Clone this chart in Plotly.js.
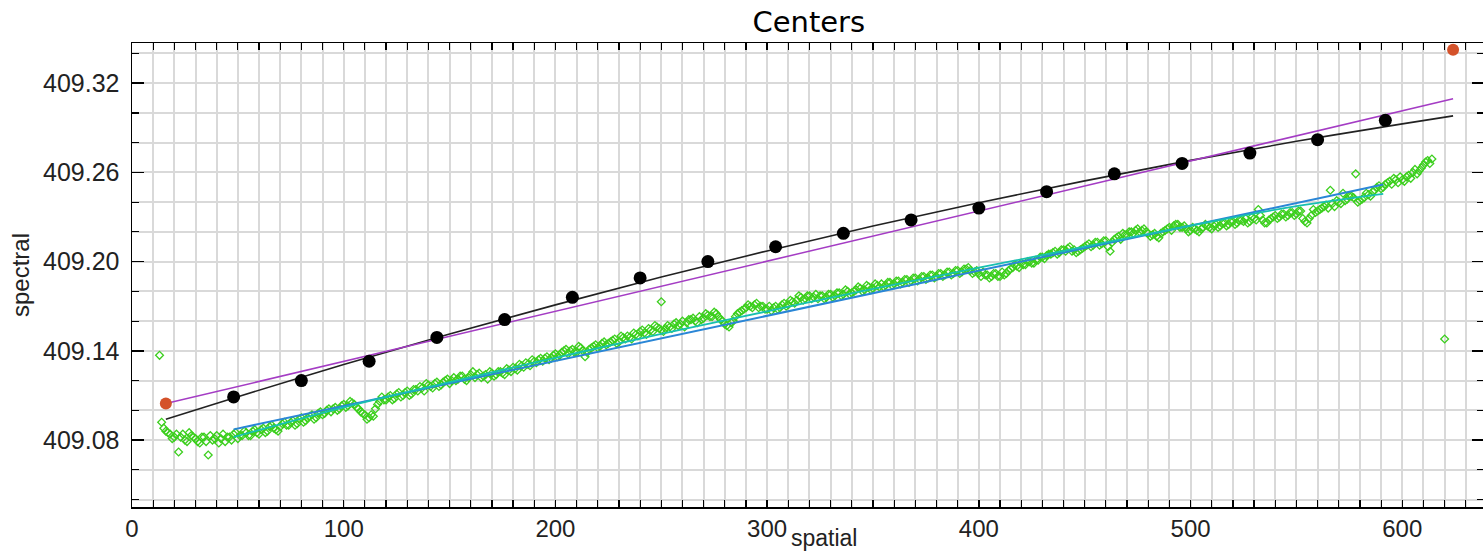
<!DOCTYPE html>
<html>
<head>
<meta charset="utf-8">
<script src="https://cdn.plot.ly/plotly-3.0.1.min.js"></script>
<style>
html,body{margin:0;padding:0;overflow:hidden;background:#fff;}
#chart{width:1484px;height:552px;}
</style>
</head>
<body>
<div id="chart"></div>
<script>
// ---- data ----
const refX = [48,80,112,144,176,208,240,272,304,336,368,400,432,464,496,528,560,592];
const refY = [409.109,409.120,409.133,409.149,409.161,409.176,409.189,409.200,409.210,409.219,409.228,409.236,409.247,409.259,409.266,409.273,409.282,409.295];

const endX = [16,624];
const endY = [409.1046,409.3424];

const quadFitX = [16,50,100,150,200,250,300,350,400,450,500,550,600,624];
const quadFitY = [409.094,409.1092,409.1308,409.1513,409.1709,409.1896,409.2072,409.2240,409.2396,409.2543,409.2681,409.2809,409.2926,409.298];

const linFitX = [16,624];
const linFitY = [409.1046,409.3095];

const greenFitX = [48,591];
const greenFitY = [409.0872,409.2518];

const greenCurveX = [48,100,150,200,250,300,350,400,450,500,550,591];
const greenCurveY = [409.082,409.102,409.119,409.1353,409.1514,409.1666,409.1817,409.1959,409.210,409.2242,409.2373,409.2456];

const greenX = [
14,16,18,20,22,24,26,28,30,32,
34,36,38,40,42,44,46,48,50,52,
54,56,58,60,62,64,66,68,70,72,
74,76,78,80,82,84,86,88,90,92,
94,96,98,100,102,104,106,108,110,112,
114,116,118,120,122,124,126,128,130,132,
134,136,138,140,142,144,146,148,150,152,
154,156,158,160,162,164,166,168,170,172,
174,176,178,180,182,184,186,188,190,192,
194,196,198,200,202,204,206,208,210,212,
214,216,218,220,222,224,226,228,230,232,
234,236,238,240,242,244,246,248,250,252,
254,256,258,260,262,264,266,268,270,272,
274,276,278,280,282,284,286,288,290,292,
294,296,298,300,302,304,306,308,310,312,
314,316,318,320,322,324,326,328,330,332,
334,336,338,340,342,344,346,348,350,352,
354,356,358,360,362,364,366,368,370,372,
374,376,378,380,382,384,386,388,390,392,
394,396,398,400,402,404,406,408,410,412,
414,416,418,420,422,424,426,428,430,432,
434,436,438,440,442,444,446,448,450,452,
454,456,458,460,462,464,466,468,470,472,
474,476,478,480,482,484,486,488,490,492,
494,496,498,500,502,504,506,508,510,512,
514,516,518,520,522,524,526,528,530,532,
534,536,538,540,542,544,546,548,550,552,
554,556,558,560,562,564,566,568,570,572,
574,576,578,580,582,584,586,588,590,592,
594,596,598,600,602,604,606,608,610,612,
614,
13,250,620];
const greenY = [
409.092,409.086,409.084,409.082,409.072,409.084,409.079,409.083,409.081,409.078,
409.082,409.070,409.080,409.083,409.081,409.079,409.082,409.084,409.081,409.083,
409.085,409.083,409.087,409.084,409.088,409.086,409.090,409.087,409.089,409.092,
409.090,409.093,409.091,409.095,409.093,409.096,409.094,409.098,409.097,409.100,
409.099,409.102,409.101,409.104,409.103,409.105,409.102,409.099,409.097,409.095,
409.096,409.104,409.109,409.107,409.110,409.108,409.112,409.110,409.113,409.111,
409.114,409.116,409.113,409.117,409.115,409.119,409.117,409.120,409.118,409.122,
409.121,409.123,409.120,409.124,409.122,409.125,409.123,409.121,409.125,409.124,
409.126,409.124,409.127,409.129,409.127,409.130,409.132,409.130,409.133,409.134,
409.133,409.136,409.135,409.138,409.137,409.140,409.138,409.141,409.139,409.142,
409.136,409.141,409.143,409.142,409.145,409.144,409.146,409.148,409.146,409.149,
409.150,409.148,409.151,409.153,409.152,409.155,409.153,409.156,409.154,409.155,
409.156,409.158,409.157,409.160,409.159,409.161,409.160,409.163,409.162,409.164,
409.163,409.165,409.161,409.158,409.156,409.160,409.165,409.167,409.169,409.170,
409.171,409.169,409.170,409.168,409.167,409.170,409.169,409.172,409.171,409.173,
409.174,409.176,409.175,409.177,409.176,409.175,409.177,409.176,409.178,409.177,
409.179,409.178,409.180,409.179,409.181,409.182,409.181,409.183,409.182,409.184,
409.185,409.184,409.186,409.185,409.187,409.186,409.188,409.187,409.189,409.188,
409.190,409.189,409.191,409.190,409.192,409.191,409.193,409.192,409.194,409.193,
409.195,409.194,409.193,409.192,409.193,409.191,409.190,409.192,409.190,409.191,
409.194,409.196,409.197,409.199,409.198,409.200,409.199,409.201,409.203,409.204,
409.205,409.207,409.206,409.208,409.209,409.207,409.206,409.208,409.210,409.212,
409.211,409.213,409.212,409.214,409.207,409.215,409.217,409.219,409.218,409.220,
409.221,409.220,409.222,409.219,409.218,409.217,409.219,409.221,409.223,409.224,
409.225,409.223,409.222,409.221,409.222,409.220,409.223,409.224,409.222,409.225,
409.224,409.226,409.225,409.227,409.226,409.228,409.229,409.227,409.229,409.235,
409.228,409.226,409.229,409.231,409.230,409.232,409.231,409.233,409.232,409.234,
409.227,409.229,409.235,409.234,409.236,409.238,409.248,409.237,409.240,409.246,
409.242,409.244,409.259,409.241,409.243,409.245,409.247,409.250,409.249,409.252,
409.254,409.256,409.253,409.255,409.257,409.256,409.262,409.261,409.265,409.268,
409.269,
409.137,409.173,409.148];

const greenX2 = [
15,17,19,21,23,25,27,29,31,33,
35,37,39,41,43,45,47,49,51,53,
55,57,59,61,63,65,67,69,71,73,
75,77,79,81,83,85,87,89,91,93,
95,97,99,101,103,105,107,109,111,113,
115,117,119,121,123,125,127,129,131,133,
135,137,139,141,143,145,147,149,151,153,
155,157,159,161,163,165,167,169,171,173,
175,177,179,181,183,185,187,189,191,193,
195,197,199,201,203,205,207,209,211,213,
215,217,219,221,223,225,227,229,231,233,
235,237,239,241,243,245,247,249,251,253,
255,257,259,261,263,265,267,269,271,273,
275,277,279,281,283,285,287,289,291,293,
295,297,299,301,303,305,307,309,311,313,
315,317,319,321,323,325,327,329,331,333,
335,337,339,341,343,345,347,349,351,353,
355,357,359,361,363,365,367,369,371,373,
375,377,379,381,383,385,387,389,391,393,
395,397,399,401,403,405,407,409,411,413,
415,417,419,421,423,425,427,429,431,433,
435,437,439,441,443,445,447,449,451,453,
455,457,459,461,463,465,467,469,471,473,
475,477,479,481,483,485,487,489,491,493,
495,497,499,501,503,505,507,509,511,513,
515,517,519,521,523,525,527,529,531,533,
535,537,539,541,543,545,547,549,551,553,
555,557,559,561,563,565,567,569,571,573,
575,577,579,581,583,585,587,589,591,593,
595,597,599,601,603,605,607,609,611,613];
const greenY2 = [
409.088,409.085,409.081,409.084,409.082,409.080,409.085,409.082,409.079,409.082,
409.079,409.083,409.081,409.078,409.084,409.082,409.080,409.085,409.083,409.086,
409.083,409.086,409.085,409.087,409.085,409.089,409.088,409.086,409.091,409.090,
409.092,409.090,409.094,409.092,409.095,409.097,409.095,409.099,409.098,409.101,
409.101,409.100,409.103,409.102,409.106,409.104,409.101,409.098,409.094,409.097,
409.101,409.106,409.107,409.109,409.107,409.111,409.109,409.112,409.110,409.114,
409.113,409.115,409.118,409.116,409.118,409.116,409.119,409.121,409.120,409.120,
409.123,409.121,409.122,409.126,409.124,409.122,409.124,409.126,409.123,409.126,
409.125,409.128,409.126,409.128,409.131,409.129,409.131,409.134,409.132,409.135,
409.135,409.134,409.137,409.136,409.139,409.141,409.140,409.139,409.143,409.140,
409.139,409.142,409.144,409.143,409.146,409.145,409.147,409.145,409.150,409.148,
409.149,409.152,409.150,409.154,409.151,409.154,409.157,409.155,409.153,409.157,
409.155,409.159,409.158,409.156,409.161,409.162,409.159,409.161,409.165,409.163,
409.166,409.163,409.160,409.157,409.159,409.163,409.166,409.168,409.171,409.169,
409.172,409.170,409.168,409.170,409.169,409.168,409.171,409.170,409.174,409.172,
409.177,409.174,409.177,409.175,409.178,409.177,409.175,409.178,409.176,409.179,
409.177,409.181,409.178,409.180,409.183,409.180,409.184,409.181,409.185,409.183,
409.183,409.186,409.184,409.187,409.185,409.188,409.186,409.189,409.187,409.190,
409.188,409.191,409.189,409.192,409.190,409.193,409.191,409.194,409.192,409.195,
409.196,409.192,409.194,409.190,409.191,409.189,409.192,409.190,409.193,409.192,
409.195,409.198,409.196,409.198,409.200,409.199,409.201,409.203,409.202,409.205,
409.206,409.205,409.208,409.207,409.210,409.208,409.207,409.209,409.211,409.210,
409.213,409.211,409.214,409.210,409.213,409.216,409.215,409.218,409.220,409.219,
409.222,409.221,409.220,409.217,409.219,409.216,409.220,409.222,409.221,409.225,
409.223,409.224,409.220,409.223,409.221,409.222,409.225,409.223,409.224,409.223,
409.226,409.224,409.227,409.225,409.228,409.227,409.226,409.230,409.228,409.231,
409.226,409.228,409.230,409.229,409.232,409.230,409.233,409.231,409.234,409.229,
409.226,409.231,409.233,409.235,409.237,409.236,409.239,409.241,409.239,409.241,
409.244,409.243,409.240,409.242,409.246,409.244,409.248,409.251,409.250,409.253,
409.252,409.255,409.257,409.254,409.258,409.260,409.259,409.263,409.267,409.266];

const xTickVals = [0,100,200,300,400,500,600];
const yTickVals = [409.08,409.14,409.20,409.26,409.32];

// ---- chart ----
const greenMarker = {symbol: 'diamond-open', size: 6, color: '#3ccf1e', line: {width: 1.3, color: '#3ccf1e'}};
const traces = [
  {x: greenX, y: greenY, type: 'scatter', mode: 'markers', marker: greenMarker},
  {x: greenX2, y: greenY2, type: 'scatter', mode: 'markers', marker: greenMarker},
  {x: greenFitX, y: greenFitY, type: 'scatter', mode: 'lines', line: {color: '#2a86d6', width: 2}},
  {x: greenCurveX, y: greenCurveY, type: 'scatter', mode: 'lines', line: {shape: 'spline', color: '#17bfb0', width: 1.8}},
  {x: quadFitX, y: quadFitY, type: 'scatter', mode: 'lines', line: {shape: 'spline', color: '#222222', width: 1.6}},
  {x: linFitX, y: linFitY, type: 'scatter', mode: 'lines', line: {color: '#a43cc4', width: 1.5}},
  {x: refX, y: refY, type: 'scatter', mode: 'markers', marker: {size: 13, color: '#000000'}},
  {x: endX, y: endY, type: 'scatter', mode: 'markers', marker: {size: 12, color: '#d4522a'}}
];

const layout = {
  width: 1484, height: 552,
  margin: {l: 132, r: 0, t: 43, b: 45, pad: 0},
  paper_bgcolor: '#ffffff', plot_bgcolor: '#ffffff',
  showlegend: false,
  font: {family: 'Liberation Sans, Arial, sans-serif', color: '#222222'},
  title: {text: 'Centers', x: 0.545, xanchor: 'center', y: 0.96, yanchor: 'middle',
          font: {family: 'DejaVu Sans, sans-serif', size: 29, color: '#000000'}},
  xaxis: {
    range: [0, 638.6], tickmode: 'array', tickvals: xTickVals, ticktext: xTickVals.map(String),
    ticks: 'inside', ticklen: 7, tickwidth: 1.5, tickcolor: '#000',
    showline: true, linecolor: '#000', linewidth: 1.5, mirror: 'ticks',
    showgrid: true, gridcolor: '#d9d9d9', gridwidth: 2, zeroline: false,
    minor: {dtick: 10, tick0: 0, ticks: 'inside', ticklen: 7, tickcolor: '#000', tickwidth: 1.2, showgrid: true, gridcolor: '#d9d9d9', gridwidth: 2},
    tickfont: {size: 24, color: '#222'}, ticklabelstandoff: 0
  },
  yaxis: {
    range: [409.035, 409.347], tickmode: 'array', tickvals: yTickVals, ticktext: yTickVals.map(v => v.toFixed(2)),
    ticks: 'inside', ticklen: 12, tickwidth: 1.5, tickcolor: '#000',
    showline: true, linecolor: '#000', linewidth: 1.5, mirror: 'ticks',
    showgrid: true, gridcolor: '#d9d9d9', gridwidth: 2, zeroline: false,
    minor: {dtick: 0.02, tick0: 409.02, ticks: 'inside', ticklen: 7, tickcolor: '#000', tickwidth: 1.2, showgrid: true, gridcolor: '#d9d9d9', gridwidth: 2},
    tickfont: {size: 25, color: '#222'}, ticklabelstandoff: 6,
    title: {text: 'spectral', font: {size: 24, color: '#222'}, standoff: 6}
  },
  annotations: [
    {text: 'spatial', xref: 'paper', yref: 'paper', x: 0.5, y: 0, xanchor: 'center', yanchor: 'bottom',
     xshift: 16, yshift: -45, showarrow: false, borderpad: 0, font: {size: 23, color: '#222'}}
  ]
};

Plotly.newPlot('chart', traces, layout, {displayModeBar: false, staticPlot: true});
</script>
</body>
</html>
